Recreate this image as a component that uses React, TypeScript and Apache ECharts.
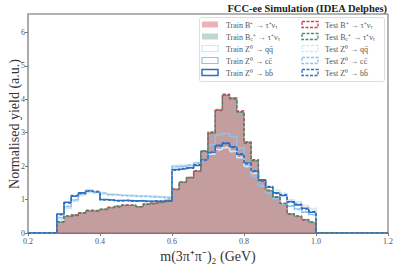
import React, { useEffect, useRef } from 'react';
import * as echarts from 'echarts';

// bin edges (GeV)
const binEdges = [0.28, 0.30, 0.32, 0.34, 0.36, 0.38, 0.40, 0.42, 0.44, 0.46, 0.48, 0.50, 0.52, 0.54, 0.56, 0.58, 0.60, 0.62, 0.64, 0.66, 0.68, 0.70, 0.72, 0.74, 0.76, 0.78, 0.80, 0.82, 0.84, 0.86, 0.88, 0.90, 0.92, 0.94, 0.96, 0.98, 1.00];

const trainBp = [0.33, 0.50, 0.54, 0.60, 0.67, 0.66, 0.71, 0.76, 0.80, 0.83, 0.83, 0.78, 0.86, 0.89, 0.92, 0.97, 1.31, 1.52, 1.66, 1.85, 2.45, 3.00, 3.68, 4.13, 4.03, 3.63, 2.71, 2.17, 1.55, 1.27, 1.08, 0.88, 0.57, 0.50, 0.40, 0.32];
const trainBc = [0.32, 0.49, 0.55, 0.59, 0.66, 0.67, 0.72, 0.75, 0.81, 0.82, 0.84, 0.79, 0.85, 0.90, 0.91, 0.98, 1.30, 1.51, 1.67, 1.84, 2.47, 2.98, 3.70, 4.11, 4.05, 3.61, 2.73, 2.15, 1.56, 1.26, 1.09, 0.87, 0.58, 0.49, 0.41, 0.31];
const testBp = [0.34, 0.51, 0.53, 0.61, 0.68, 0.67, 0.70, 0.77, 0.79, 0.84, 0.82, 0.79, 0.87, 0.88, 0.93, 0.96, 1.32, 1.53, 1.65, 1.86, 2.43, 3.02, 3.66, 4.15, 4.01, 3.65, 2.69, 2.19, 1.54, 1.28, 1.07, 0.89, 0.56, 0.51, 0.39, 0.33];
const testBc = [0.33, 0.50, 0.54, 0.60, 0.66, 0.66, 0.71, 0.76, 0.80, 0.83, 0.83, 0.78, 0.86, 0.89, 0.92, 0.97, 1.30, 1.52, 1.66, 1.85, 2.46, 2.99, 3.69, 4.12, 4.04, 3.62, 2.72, 2.16, 1.55, 1.27, 1.08, 0.88, 0.57, 0.50, 0.40, 0.32];

const trainQQ = [0.38, 0.72, 0.95, 1.12, 1.22, 1.22, 1.20, 1.17, 1.15, 1.14, 1.13, 1.12, 1.11, 1.10, 1.09, 1.08, 2.02, 2.04, 2.02, 2.05, 2.20, 2.35, 2.50, 2.55, 2.45, 2.25, 2.00, 1.78, 1.55, 1.38, 1.28, 1.18, 1.00, 0.92, 0.82, 0.72];
const testQQ = [0.40, 0.74, 0.97, 1.14, 1.20, 1.24, 1.18, 1.18, 1.14, 1.15, 1.12, 1.13, 1.10, 1.11, 1.08, 1.09, 2.00, 2.05, 2.03, 2.07, 2.18, 2.37, 2.48, 2.57, 2.43, 2.27, 1.98, 1.80, 1.53, 1.40, 1.26, 1.20, 0.98, 0.94, 0.80, 0.74];
const trainCC = [0.45, 0.78, 0.98, 1.18, 1.25, 1.22, 1.18, 1.15, 1.13, 1.12, 1.11, 1.10, 1.09, 1.08, 1.07, 1.05, 1.98, 2.00, 2.02, 2.10, 2.40, 2.65, 2.93, 2.98, 2.88, 2.55, 2.05, 1.70, 1.40, 1.20, 1.02, 0.88, 0.80, 0.72, 0.62, 0.56];
const testCC = [0.47, 0.80, 1.00, 1.16, 1.27, 1.20, 1.19, 1.14, 1.14, 1.11, 1.12, 1.09, 1.10, 1.07, 1.08, 1.04, 2.00, 1.98, 2.04, 2.08, 2.42, 2.63, 2.95, 2.96, 2.90, 2.53, 2.07, 1.68, 1.42, 1.18, 1.04, 0.86, 0.82, 0.70, 0.64, 0.54];
const trainBB = [0.57, 0.92, 1.10, 1.20, 1.27, 1.22, 1.00, 0.98, 0.97, 0.97, 0.96, 0.96, 0.95, 0.95, 0.95, 0.96, 1.90, 1.92, 1.95, 2.02, 2.20, 2.40, 2.62, 2.68, 2.58, 2.35, 2.09, 1.84, 1.59, 1.37, 1.20, 1.12, 0.94, 0.84, 0.74, 0.62];
const testBB = [0.55, 0.90, 1.12, 1.18, 1.25, 1.24, 0.99, 0.99, 0.96, 0.98, 0.95, 0.97, 0.94, 0.96, 0.94, 0.97, 1.88, 1.93, 1.94, 2.04, 2.18, 2.42, 2.60, 2.70, 2.56, 2.37, 2.07, 1.86, 1.57, 1.39, 1.18, 1.14, 0.92, 0.86, 0.72, 0.64];

const xTicks = [0.2, 0.4, 0.6, 0.8, 1.0, 1.2];
const yTicks = [0, 1, 2, 3, 4, 5, 6];

const legendLeft = [
  'Train B⁺ → τ⁺ν{s|τ}',
  'Train B{s|c}⁺ → τ⁺ν{s|τ}',
  'Train Z⁰ → qq̄',
  'Train Z⁰ → cc̄',
  'Train Z⁰ → bb̄',
];
const legendRight = [
  'Test B⁺ → τ⁺ν{s|τ}',
  'Test B{s|c}⁺ → τ⁺ν{s|τ}',
  'Test Z⁰ → qq̄',
  'Test Z⁰ → cc̄',
  'Test Z⁰ → bb̄',
];

const C_RED = '#c8404e';
const C_GREEN = '#4a8c70';
const C_QQ = '#d3e6f3';
const C_CC = '#8dc3e6';
const C_BB = '#2e6fc1';
const FONT = 'Liberation Serif';

function stepData(vals: number[]) {
  const d: number[][] = [[0.2, 0]];
  vals.forEach((v, i) => d.push([binEdges[i], v]));
  d.push([binEdges[binEdges.length - 1], 0]);
  d.push([1.2, 0]);
  return d;
}

export default function App() {
  const ref = useRef<HTMLDivElement>(null);
  useEffect(() => {
    if (!ref.current) return;
    const chart = echarts.init(ref.current, null, { renderer: 'svg' });

    const line = (name: string, vals: number[], color: string, width: number, dashed: boolean, fill?: { color: string; opacity: number }) => ({
      name,
      type: 'line',
      step: 'end',
      data: stepData(vals),
      symbol: 'none',
      silent: true,
      lineStyle: { color, width, type: dashed ? [3, 2] : 'solid', opacity: fill ? 0.6 : 1 },
      areaStyle: fill ? { color: fill.color, opacity: fill.opacity } : undefined,
      z: 2,
    });

    const legendItems: any[] = [];
    const rowY = [25, 37, 49, 61, 73];
    const styles = [
      { color: C_RED, fill: 'rgba(200,64,78,0.4)', w: 1 },
      { color: C_GREEN, fill: 'rgba(74,140,112,0.35)', w: 1 },
      { color: C_QQ, fill: '#fff', w: 1.2 },
      { color: C_CC, fill: '#fff', w: 1.2 },
      { color: C_BB, fill: '#fff', w: 1.5 },
    ];
    const rich = { s: { fontSize: 5.5, fontFamily: FONT, fill: '#555', padding: [4, 0, 0, 0] } };
    rowY.forEach((y, i) => {
      const st = styles[i];
      legendItems.push({
        type: 'rect', z: 20, shape: { x: 202, y: y - 3.5, width: 16, height: 6 },
        style: { fill: st.fill, stroke: i < 2 ? 'rgba(0,0,0,0)' : st.color, lineWidth: st.w },
      });
      legendItems.push({
        type: 'text', z: 20, x: 226, y,
        style: { text: legendLeft[i], fontSize: 8, fontFamily: FONT, fill: '#555', verticalAlign: 'middle', rich },
      });
      legendItems.push({
        type: 'rect', z: 20, shape: { x: 302, y: y - 3.5, width: 16, height: 6 },
        style: { fill: 'none', stroke: st.color, lineWidth: 1.3, lineDash: [3, 1.5] },
      });
      legendItems.push({
        type: 'text', z: 20, x: 325, y,
        style: { text: legendRight[i], fontSize: 8, fontFamily: FONT, fill: '#555', verticalAlign: 'middle', rich },
      });
    });

    chart.setOption({
      animation: false,
      grid: { left: 28, right: 11, top: 14, bottom: 33, show: true, borderColor: '#666', borderWidth: 1, containLabel: false, outerBoundsMode: 'none' },
      xAxis: {
        type: 'value', min: 0.2, max: 1.2, interval: 0.2,
        name: 'm(3π⁺π⁻)₂ (GeV)', nameLocation: 'middle', nameGap: 10,
        nameTextStyle: { fontSize: 14, fontFamily: FONT, color: '#333' },
        axisLine: { show: true, lineStyle: { color: '#777', width: 1 } },
        axisTick: { show: true, length: 3, lineStyle: { color: '#777' }, customValues: xTicks },
        axisLabel: { fontSize: 8, fontFamily: FONT, color: '#555', margin: 4, customValues: xTicks, formatter: (v: number) => v.toFixed(1) },
        splitLine: { show: false },
      },
      yAxis: {
        type: 'value', min: 0, max: 6.55, interval: 1,
        axisLine: { show: true, lineStyle: { color: '#aaa', width: 2 } },
        axisTick: { show: true, length: 3, lineStyle: { color: '#777' }, customValues: yTicks },
        axisLabel: { fontSize: 8, fontFamily: FONT, color: '#555', margin: 3, customValues: yTicks, formatter: (v: number) => String(v) },
        splitLine: { show: false },
      },
      series: [
        line('Train B+', trainBp, C_RED, 0.8, false, { color: '#c8505c', opacity: 0.55 }),
        line('Train Bc', trainBc, C_GREEN, 0.8, false, { color: '#6f9c88', opacity: 0.25 }),
        line('Train qq', trainQQ, C_QQ, 1.3, false),
        line('Train cc', trainCC, C_CC, 1.3, false),
        line('Train bb', trainBB, C_BB, 1.6, false),
        line('Test qq', testQQ, C_QQ, 1.3, true),
        line('Test cc', testCC, C_CC, 1.3, true),
        line('Test B+', testBp, C_RED, 1.4, true),
        line('Test Bc', testBc, C_GREEN, 1.4, true),
        line('Test bb', testBB, C_BB, 1.6, true),
      ],
      graphic: [
        {
          type: 'text', z: 20, x: 387, y: 8,
          style: { text: 'FCC-ee Simulation (IDEA Delphes)', fontSize: 10.5, fontWeight: 'bold', fontFamily: FONT, fill: '#222', textAlign: 'right', verticalAlign: 'middle' },
        },
        {
          type: 'text', z: 20, x: 14, y: 124, rotation: Math.PI / 2,
          style: { text: 'Normalised yield (a.u.)', fontSize: 14, fontFamily: FONT, fill: '#333', textAlign: 'center', verticalAlign: 'middle' },
        },
        {
          type: 'rect', shape: { x: 199.5, y: 17.5, width: 185, height: 64, r: 2 },
          style: { fill: 'rgba(255,255,255,0.8)', stroke: '#ddd', lineWidth: 1 }, z: 10,
        },
        ...legendItems,
      ],
    });
    return () => chart.dispose();
  }, []);
  return <div ref={ref} style={{ width: 399, height: 266, position: 'absolute', left: 0, top: 0 }} />;
}
